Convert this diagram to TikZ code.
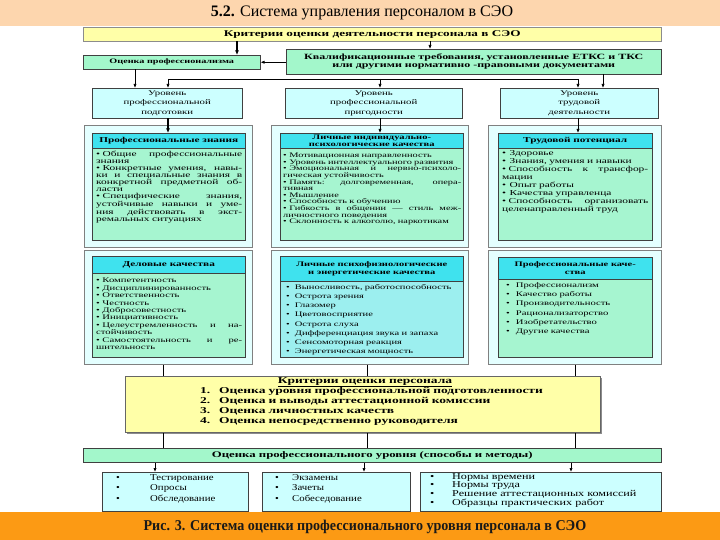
\documentclass[tikz,border=0pt]{standalone}
\usepackage{fontspec}
\setmainfont{Liberation Serif}
\newfontfamily\wf{Liberation Serif}[FakeStretch=1.5]
\newfontfamily\wfm{Liberation Serif}[FakeStretch=1.35]
\newfontfamily\wfn{Liberation Serif}[FakeStretch=1.2]
\newfontfamily\cf{Liberation Serif}[FakeStretch=0.94]
\usetikzlibrary{arrows.meta,shadows}
\definecolor{peach}{HTML}{FDD6AE}
\definecolor{lyel}{HTML}{FFFFA8}
\definecolor{mint}{HTML}{A3F7CB}
\definecolor{lcyan}{HTML}{CCFFFF}
\definecolor{framec}{HTML}{E4FFFF}
\definecolor{hdr}{HTML}{3FE2EE}
\definecolor{bodym}{HTML}{A6F5D0}
\definecolor{bodya}{HTML}{9CEFEF}
\definecolor{orng}{HTML}{FC9A14}
\newcommand\jl[1]{{\spaceskip=0.3333em plus 3em\xspaceskip=0.3333em plus 3em\makebox[\hsize][s]{#1}}}
\newcommand\bu{•\hspace{2.5pt}}
\newcommand\fs[2]{\fontsize{#1}{#2}\selectfont}
\begin{document}
\begin{tikzpicture}[x=1pt,y=-1pt,
 bx/.style={draw=black!75, line width=0.5pt, inner sep=0pt, anchor=north west, align=center},
 arr/.style={-{Latex[length=4pt,width=3.2pt]}, line width=0.7pt},
 thk/.style={-{Latex[length=4.5pt,width=3.8pt]}, line width=1.2pt},
 ln/.style={line width=0.7pt},
 txt/.style={anchor=north west, inner sep=0pt, align=left, text width=#1pt},
]
\useasboundingbox (0,0) rectangle (720,540);
\fill[peach] (0,0) rectangle (720,26);
\node[inner sep=0pt, font=\fs{16}{16}] (title) at (362,13) {\textbf{5.2.} Система управления персоналом в СЭО};

% top criteria
\node[bx, fill=lyel, draw=black!45, minimum width=578pt, minimum height=14pt, font=\wf\bfseries\fs{8.8}{9}] (krit) at (83,27) {Критерии оценки деятельности персонала в СЭО};
\node[bx, fill=mint, minimum width=177pt, minimum height=14pt, font=\wf\bfseries\fs{6.8}{8}] (ocp) at (83,55) {Оценка профессионализма};
\node[bx, fill=mint, minimum width=375pt, minimum height=25pt, font=\wf\bfseries\fs{8}{8.5}] (kval) at (286,49) {Квалификационные требования, установленные ЕТКС и ТКС\\или другими нормативно -правовыми документами};

\coordinate (xa) at (237,0);
\coordinate (xb) at (430,0);
\coordinate (x1) at (135,0);
\coordinate (x2) at (603,0);
\coordinate (bl) at (168,79);
\coordinate (bm) at (380,79);
\coordinate (br) at (578,79);

% row 3
\node[bx, fill=lcyan, minimum width=150pt, minimum height=30pt, font=\wf\fs{7.2}{9.5}] (ua) at (92,88) {Уровень\\профессиональной\\подготовки};
\node[bx, fill=lcyan, minimum width=177pt, minimum height=30pt, font=\wf\fs{7.2}{9.5}] (ub) at (285,88) {Уровень\\профессиональной\\пригодности};
\node[bx, fill=lcyan, minimum width=158pt, minimum height=30pt, font=\wf\fs{7.2}{9.5}] (uc) at (500,88) {Уровень\\трудовой\\деятельности};

\draw[thk] (krit.south -| xa) -- (ocp.north -| xa);
\draw[arr] (krit.south -| xb) -- (kval.north -| xb);
\draw[arr] (kval.west |- ocp.east) -- (ocp.east);
\draw[arr] (ocp.south -| x1) -- (ua.north -| x1);
\draw[arr] (kval.south -| x2) -- (uc.north -| x2);
\draw[ln] (bl) -- (br);
\draw[arr] (bl) -- (ua.north -| bl);
\draw[arr] (bm) -- (ub.north -| bm);
\draw[arr] (br) -- (uc.north -| br);

% row 4
\node[bx, fill=framec, draw=black!50, minimum width=168pt, minimum height=122pt] (oa4) at (84,125) {};
\node[bx, fill=framec, draw=black!50, minimum width=197pt, minimum height=122pt] (ob4) at (271,125) {};
\node[bx, fill=framec, draw=black!50, minimum width=173pt, minimum height=122pt] (oc4) at (488,125) {};

\node[bx, fill=hdr, minimum width=153pt, minimum height=15pt, font=\wf\bfseries\fs{7.5}{7.5}] (ha4) at (92,133) {Профессиональные знания};
\node[bx, fill=bodym, minimum width=153pt, minimum height=92pt] (ba4) at (92,148) {};
\node[txt=146, font=\wf\fs{7.6}{6.8}] (ta4) at ([shift={(4,3)}]ba4.north west) {\jl{\bu Общие профессиональные}\\
знания\\
\jl{\bu Конкретные умения, навы-}\\
\jl{ки и специальные знания в}\\
\jl{конкретной предметной об-}\\
ласти\\
\jl{\bu Специфические знания,}\\
\jl{устойчивые навыки и уме-}\\
\jl{ния действовать в экст-}\\
ремальных ситуациях};

\node[bx, fill=hdr, minimum width=183pt, minimum height=15pt, font=\wf\bfseries\fs{7}{7}] (hb4) at (280,133) {Личные индивидуально-\\психологические качества};
\node[bx, fill=bodym, minimum width=183pt, minimum height=92pt] (bb4) at (280,148) {};
\node[txt=178, font=\wf\fs{6.9}{6.6}] (tb4) at ([shift={(3,5)}]bb4.north west) {\bu Мотивационная направленность\\
\bu Уровень интеллектуального развития\\
\jl{\bu Эмоциональная и нервно-психоло-}\\
гическая устойчивость\\
\jl{\bu Память: долговременная, опера-}\\
тивная\\
\bu Мышление\\
\bu Способность к обучению\\
\jl{\bu Гибкость в общении — стиль меж-}\\
личностного поведения\\
\bu Склонность к алкоголю, наркотикам};

\node[bx, fill=hdr, minimum width=154pt, minimum height=15pt, font=\wf\bfseries\fs{7.5}{7.5}] (hc4) at (498,133) {Трудовой потенциал};
\node[bx, fill=bodym, minimum width=154pt, minimum height=92pt] (bc4) at (498,148) {};
\node[txt=146, font=\wf\fs{7.6}{8}] (tc4) at ([shift={(4,2)}]bc4.north west) {•\hspace{3.5pt}Здоровье\\
•\hspace{3.5pt}Знания, умения и навыки\\
\jl{\bu Способность к трансфор-}\\
мации\\
•\hspace{3.5pt}Опыт работы\\
•\hspace{3.5pt}Качества управленца\\
\jl{\bu Способность организовать}\\
целенаправленный труд};

\draw[thk] (ua.south -| bl) -- (ha4.north -| bl);
\draw[arr] (ub.south -| bm) -- (hb4.north -| bm);
\draw[arr] (uc.south -| br) -- (hc4.north -| br);

% row 5
\node[bx, fill=framec, draw=black!50, minimum width=168pt, minimum height=114pt] (oa5) at (84,250) {};
\node[bx, fill=framec, draw=black!50, minimum width=197pt, minimum height=114pt] (ob5) at (271,250) {};
\node[bx, fill=framec, draw=black!50, minimum width=173pt, minimum height=114pt] (oc5) at (488,250) {};

\node[bx, fill=hdr, minimum width=153pt, minimum height=17pt, font=\wf\bfseries\fs{7.5}{7.5}] (ha5) at (92,256) {Деловые качества};
\node[bx, fill=bodym, minimum width=153pt, minimum height=84pt] (ba5) at (92,273) {};
\node[txt=146, font=\wf\fs{7.1}{7.4}] (ta5) at ([shift={(4,5)}]ba5.north west) {\bu Компетентность\\
\bu Дисциплинированность\\
\bu Ответственность\\
\bu Честность\\
\bu Добросовестность\\
\bu Инициативность\\
\jl{\bu Целеустремленность и на-}\\
стойчивость\\
\jl{\bu Самостоятельность и ре-}\\
шительность};

\node[bx, fill=hdr, minimum width=183pt, minimum height=25pt, font=\wf\bfseries\fs{7}{7.5}] (hb5) at (280,256) {Личные психофизиологические\\и энергетические качества};
\node[bx, fill=bodya, minimum width=183pt, minimum height=76pt] (bb5) at (280,281) {};
\node[txt=175, font=\wf\fs{7}{9.2}] (tb5) at ([shift={(6,3)}]bb5.north west) {•\hspace{5pt}Выносливость, работоспособность\\
•\hspace{5pt}Острота зрения\\
•\hspace{5pt}Глазомер\\
•\hspace{5pt}Цветовосприятие\\
•\hspace{5pt}Острота слуха\\
•\hspace{5pt}Дифференциация звука и запаха\\
•\hspace{5pt}Сенсомоторная реакция\\
•\hspace{5pt}Энергетическая мощность};

\node[bx, fill=hdr, minimum width=154pt, minimum height=22pt, font=\wf\bfseries\fs{7}{7.5}] (hc5) at (498,257) {Профессиональные каче-\\ства};
\node[bx, fill=bodym, minimum width=154pt, minimum height=78pt] (bc5) at (498,279) {};
\node[txt=144, font=\wf\fs{7.1}{9.3}] (tc5) at ([shift={(8,3)}]bc5.north west) {•\hspace{6pt}Профессионализм\\
•\hspace{6pt}Качество работы\\
•\hspace{6pt}Производительность\\
•\hspace{6pt}Рационализаторство\\
•\hspace{6pt}Изобретательство\\
•\hspace{6pt}Другие качества};

% criteria of personnel
\node[bx, fill=lyel, draw=black!60, minimum width=475pt, minimum height=56pt,
  drop shadow={shadow xshift=1.5pt, shadow yshift=-1.5pt, fill=black!45, opacity=1}] (crit) at (125,376) {};
\node[inner sep=0pt, anchor=north, font=\wf\bfseries\fs{9}{10}] (crith) at (365,377) {\underline{Критерии оценки персонала}};
\node[txt=390, font=\wf\bfseries\fs{9}{10}] (critl) at (200,387) {\makebox[19pt][l]{1.}Оценка уровня профессиональной подготовленности\\
\makebox[19pt][l]{2.}Оценка и выводы аттестационной комиссии\\
\makebox[19pt][l]{3.}Оценка личностных качеств\\
\makebox[19pt][l]{4.}Оценка непосредственно руководителя};

% methods bar
\node[bx, fill=mint, minimum width=578pt, minimum height=14pt, font=\wf\bfseries\fs{8.5}{9}] (gbar) at (83,448) {Оценка профессионального уровня (способы и методы)};

\coordinate (l1) at (163,0);
\coordinate (l2) at (367,0);
\coordinate (l3) at (575,0);
\draw[ln] (oa5.south -| l1) -- (crit.north -| l1);
\draw[ln] (ob5.south -| l2) -- (crit.north -| l2);
\draw[ln] (oc5.south -| l3) -- (crit.north -| l3);
\draw[ln] (crit.south -| l1) -- (gbar.north -| l1);
\draw[ln] (crit.south -| l2) -- (gbar.north -| l2);
\draw[ln] (crit.south -| l3) -- (gbar.north -| l3);

% bottom boxes
\node[bx, fill=lcyan, minimum width=146pt, minimum height=39pt] (m1) at (102,472) {};
\node[bx, fill=lcyan, minimum width=148pt, minimum height=39pt] (m2) at (262,472) {};
\node[bx, fill=lcyan, minimum width=241pt, minimum height=39pt] (m3) at (420,472) {};
\coordinate (d1) at (155,0);
\coordinate (d2) at (364,0);
\coordinate (d3) at (571,0);
\draw[arr] (gbar.south -| d1) -- (m1.north -| d1);
\draw[arr] (gbar.south -| d2) -- (m2.north -| d2);
\draw[arr] (gbar.south -| d3) -- (m3.north -| d3);

\node[txt=135, font=\wfn\fs{9}{10.5}] (t1) at (116,474) {\makebox[34pt][l]{•}Тестирование\\
\makebox[34pt][l]{•}Опросы\\
\makebox[34pt][l]{•}Обследование};
\node[txt=140, font=\wfn\fs{9}{10.5}] (t2) at (275,474) {\makebox[17pt][l]{•}Экзамены\\
\makebox[17pt][l]{•}Зачеты\\
\makebox[17pt][l]{•}Собеседование};
\node[txt=235, font=\wfm\fs{9}{8}] (t3) at (430,473) {\makebox[22pt][l]{•}Нормы времени\\
\makebox[22pt][l]{•}Нормы труда\\
\makebox[22pt][l]{•}Решение аттестационных комиссий\\
\makebox[22pt][l]{•}Образцы практических работ};

% footer
\fill[orng] (0,512) rectangle (720,540);
\node[inner sep=0pt, font=\cf\bfseries\fs{15}{15}, text=black!90] (cap) at (365,527) {Рис. 3. Система оценки профессионального уровня персонала в СЭО};
\end{tikzpicture}
\end{document}
